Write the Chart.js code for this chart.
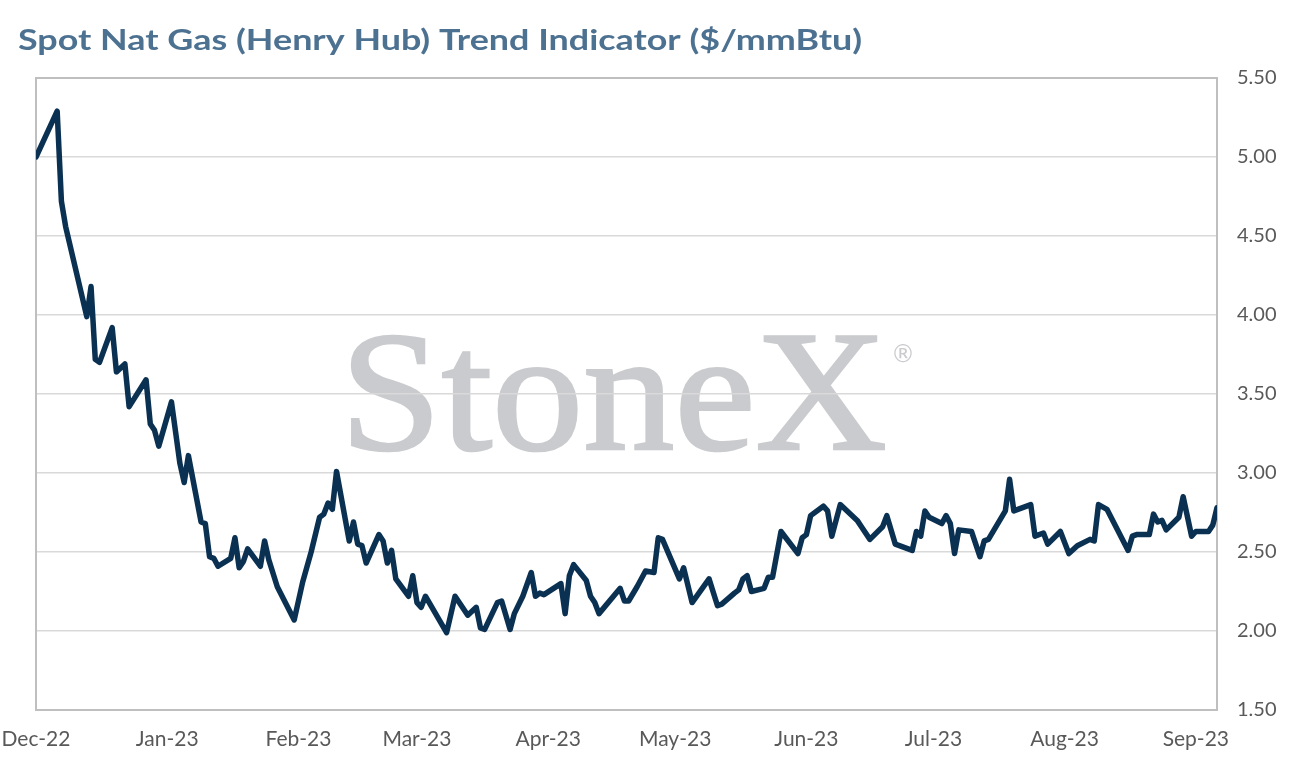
<!DOCTYPE html>
<html><head><meta charset="utf-8">
<script src="https://cdn.jsdelivr.net/npm/chart.js@4.4.0/dist/chart.umd.min.js"></script>
<style>html,body{margin:0;padding:0;background:#fff;overflow:hidden}#wrap{width:1294px;height:771px;position:relative}</style>
</head><body><div id="wrap"><canvas id="c" width="1294" height="771"></canvas></div>
<script>
const titleText = 'Spot Nat Gas (Henry Hub) Trend Indicator ($/mmBtu)';
const startDate = '2022-12-01';
const endDate = '2023-09-06';
const monthTicks = ['2022-12-01','2023-01-01','2023-02-01','2023-03-01','2023-04-01','2023-05-01','2023-06-01','2023-07-01','2023-08-01','2023-09-01'];
const monthLabels = ['Dec-22','Jan-23','Feb-23','Mar-23','Apr-23','May-23','Jun-23','Jul-23','Aug-23','Sep-23'];
const yMin = 1.5, yMax = 5.5, yStep = 0.5;

const dates = [
'2022-12-01','2022-12-06','2022-12-07','2022-12-08','2022-12-13','2022-12-14','2022-12-15','2022-12-16','2022-12-19','2022-12-20',
'2022-12-22','2022-12-23','2022-12-27','2022-12-28','2022-12-29','2022-12-30','2023-01-02','2023-01-04','2023-01-05','2023-01-06',
'2023-01-09','2023-01-10','2023-01-11','2023-01-12','2023-01-13','2023-01-16','2023-01-17','2023-01-18','2023-01-19','2023-01-20',
'2023-01-23','2023-01-24','2023-01-25','2023-01-27','2023-01-31','2023-02-02','2023-02-04','2023-02-06','2023-02-07','2023-02-08',
'2023-02-09','2023-02-10','2023-02-13','2023-02-14','2023-02-15','2023-02-16','2023-02-17','2023-02-20','2023-02-21','2023-02-22',
'2023-02-23','2023-02-24','2023-02-27','2023-02-28','2023-03-01','2023-03-02','2023-03-03','2023-03-08','2023-03-10','2023-03-13',
'2023-03-15','2023-03-16','2023-03-17','2023-03-20','2023-03-21','2023-03-23','2023-03-24','2023-03-26','2023-03-28','2023-03-29',
'2023-03-30','2023-03-31','2023-04-04','2023-04-05','2023-04-06','2023-04-07','2023-04-10','2023-04-11','2023-04-12','2023-04-13',
'2023-04-18','2023-04-19','2023-04-20','2023-04-22','2023-04-24','2023-04-26','2023-04-27','2023-04-28','2023-05-02','2023-05-03',
'2023-05-05','2023-05-09','2023-05-11','2023-05-12','2023-05-15','2023-05-16','2023-05-17','2023-05-18','2023-05-19','2023-05-22',
'2023-05-23','2023-05-24','2023-05-26','2023-05-30','2023-05-31','2023-06-01','2023-06-02','2023-06-05','2023-06-06','2023-06-07',
'2023-06-09','2023-06-13','2023-06-14','2023-06-16','2023-06-19','2023-06-20','2023-06-22','2023-06-26','2023-06-27','2023-06-28',
'2023-06-29','2023-06-30','2023-07-03','2023-07-04','2023-07-05','2023-07-06','2023-07-07','2023-07-10','2023-07-12','2023-07-13',
'2023-07-14','2023-07-18','2023-07-19','2023-07-20','2023-07-24','2023-07-25','2023-07-27','2023-07-28','2023-07-31','2023-08-02',
'2023-08-04','2023-08-07','2023-08-08','2023-08-09','2023-08-11','2023-08-16','2023-08-17','2023-08-18','2023-08-21','2023-08-22',
'2023-08-23','2023-08-24','2023-08-25','2023-08-28','2023-08-29','2023-08-31','2023-09-01','2023-09-04','2023-09-05','2023-09-06'
];
const values = [
5.00,5.29,4.72,4.56,3.99,4.18,3.72,3.70,3.92,3.64,
3.69,3.42,3.59,3.31,3.27,3.17,3.45,3.06,2.94,3.11,
2.69,2.68,2.47,2.46,2.41,2.46,2.59,2.40,2.44,2.52,
2.41,2.57,2.45,2.28,2.07,2.31,2.50,2.72,2.74,2.81,
2.77,3.01,2.57,2.69,2.55,2.54,2.43,2.61,2.57,2.43,
2.51,2.33,2.22,2.35,2.18,2.15,2.22,1.99,2.22,2.10,
2.15,2.02,2.01,2.18,2.19,2.01,2.11,2.22,2.37,2.22,
2.24,2.23,2.30,2.11,2.35,2.42,2.32,2.22,2.18,2.11,
2.27,2.19,2.19,2.28,2.38,2.37,2.59,2.58,2.33,2.40,
2.18,2.33,2.16,2.17,2.24,2.26,2.33,2.35,2.25,2.27,
2.34,2.34,2.63,2.49,2.59,2.61,2.73,2.79,2.76,2.60,
2.80,2.70,2.66,2.58,2.66,2.73,2.55,2.51,2.63,2.60,
2.76,2.72,2.68,2.73,2.68,2.49,2.64,2.63,2.47,2.57,
2.58,2.76,2.96,2.76,2.80,2.60,2.62,2.55,2.63,2.49,
2.54,2.58,2.57,2.80,2.77,2.51,2.60,2.61,2.61,2.74,
2.69,2.70,2.64,2.72,2.85,2.60,2.63,2.63,2.67,2.78
];

function dayOf(s){ return (Date.parse(s+'T00:00:00Z') - Date.parse(startDate+'T00:00:00Z'))/86400000; }
const labelByDay = {};
monthTicks.forEach((d,i)=>{ labelByDay[dayOf(d)] = monthLabels[i]; });

const decorPlugin = {
  id:'decor',
  beforeDraw(chart){
    const ctx = chart.ctx;
    ctx.save();
    ctx.fillStyle = '#4d7291';
    ctx.textBaseline = 'alphabetic';
    ctx.font = 'bold 29px Lato';
    let w = ctx.measureText(titleText).width;
    ctx.translate(18, 50);
    ctx.scale(844 / w, 1);
    ctx.fillText(titleText, 0, 0);
    ctx.restore();
    ctx.save();
    ctx.fillStyle = '#cacbce';
    ctx.font = '172px "Liberation Serif"';
    ctx.textBaseline = 'alphabetic';
    const ww = ctx.measureText('StoneX').width;
    ctx.translate(340, 449);
    ctx.scale(547 / ww, 1);
    ctx.fillText('StoneX', 0, 0);
    ctx.strokeStyle = '#cacbce';
    ctx.lineWidth = 2.5;
    ctx.strokeText('StoneX', 0, 0);
    ctx.restore();
    ctx.save();
    ctx.fillStyle = '#cacbce';
    ctx.font = '24px "DejaVu Sans"';
    ctx.textBaseline = 'middle';
    ctx.fillText('\u00AE', 891, 356);
    ctx.restore();
  },
  beforeDatasetsDraw(chart){
    const {ctx, chartArea:a} = chart;
    ctx.save();
    ctx.strokeStyle = '#bfbfbf';
    ctx.lineWidth = 2;
    ctx.beginPath();
    ctx.moveTo(a.left, a.bottom); ctx.lineTo(a.left, a.top); ctx.lineTo(a.right, a.top); ctx.lineTo(a.right, a.bottom); ctx.closePath();
    ctx.stroke();
    ctx.restore();
  }
};

new Chart(document.getElementById('c'), {
  type:'line',
  data:{ datasets:[{
    data: dates.map((d,i)=>({x: dayOf(d), y: values[i]})),
    borderColor:'#0b3152', borderWidth:5.5, pointRadius:0, tension:0,
    borderJoinStyle:'round', borderCapStyle:'round', fill:false
  }]},
  options:{
    responsive:false, animation:false,
    layout:{ padding:{ left:36, top:78, right:0, bottom:0 } },
    plugins:{ legend:{display:false}, tooltip:{enabled:false}, title:{display:false} },
    scales:{
      x:{
        type:'linear', min:0, max:dayOf(endDate),
        grid:{display:false, drawTicks:false},
        border:{display:true, color:'#bfbfbf', width:2},
        afterBuildTicks(s){ s.ticks = monthTicks.map(d=>({value: dayOf(d)})); },
        afterFit(s){ s.height = 61; s.paddingLeft = 0; s.paddingRight = 0; },
        ticks:{ autoSkip:false, maxRotation:0, padding:17, color:'#595959', font:{family:'Lato', size:21},
          callback:(v)=> labelByDay[v] || '' }
      },
      y:{
        position:'right', min:yMin, max:yMax,
        grid:{color:'#d9d9d9', lineWidth:1.5, drawTicks:false},
        border:{display:true, color:'#bfbfbf', width:2},
        afterFit(s){ s.width = 77; s.paddingTop = 0; s.paddingBottom = 0; },
        ticks:{ stepSize:yStep, padding:20, color:'#595959', font:{family:'Lato', size:20},
          callback:(v)=> Number(v).toFixed(2) }
      }
    }
  },
  plugins:[decorPlugin]
});
</script>
</body></html>
